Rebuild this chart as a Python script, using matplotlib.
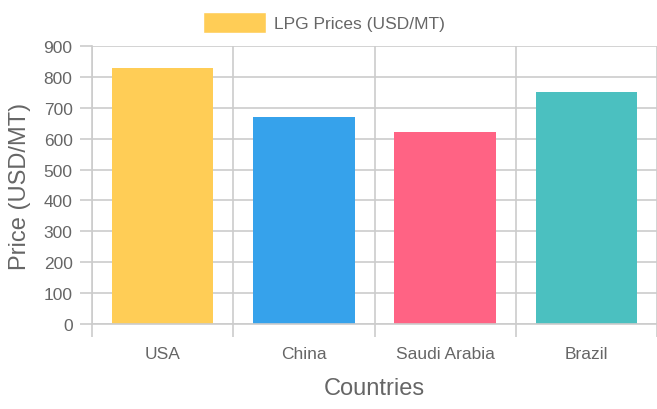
import matplotlib.pyplot as plt
import matplotlib.patches as mpatches
import numpy as np

plt.rcParams['font.family'] = ['Liberation Sans', 'DejaVu Sans']

countries = ['USA', 'China', 'Saudi Arabia', 'Brazil']
prices = [830, 670, 620, 750]
bar_colours = ['#FFCD56', '#36A2EB', '#FF6384', '#4BC0C0']
series_label = 'LPG Prices (USD/MT)'
y_ticks = list(range(0, 1000, 100))

text_grey = '#666666'
grid_grey = '#cccccc'

fig = plt.figure(figsize=(6.57, 4.10), dpi=100)
ax = fig.add_axes([92 / 657, 1 - 325 / 410, 1 - 92 / 657, (325 - 47) / 410])

x = np.arange(len(countries))
ax.bar(x, prices, width=0.72, color=bar_colours, zorder=2)

ax.set_xlim(-0.5, len(countries) - 0.5)
ax.set_ylim(0, 900)
ax.set_yticks(y_ticks)
ax.set_xticks(x)
ax.set_xticklabels(countries)
ax.set_xticks(np.arange(-0.5, len(countries)), minor=True)

ax.tick_params(axis='x', which='major', length=0, pad=15.5, labelsize=12.5, labelcolor=text_grey)
ax.tick_params(axis='x', which='minor', length=9, width=1.2, color=grid_grey)
ax.tick_params(axis='y', length=9, width=1.2, color=grid_grey, pad=5, labelsize=12.5, labelcolor=text_grey)

ax.grid(axis='y', which='major', color=grid_grey, lw=1.2, zorder=0)
ax.grid(axis='x', which='minor', color=grid_grey, lw=1.2, zorder=0)
ax.set_axisbelow(True)

for s in ['top', 'right']:
    ax.spines[s].set_visible(False)
for s in ['left', 'bottom']:
    ax.spines[s].set_color(grid_grey)
    ax.spines[s].set_linewidth(1.2)

ax.set_xlabel('Countries', fontsize=17, color=text_grey, labelpad=12)
ax.set_ylabel('Price (USD/MT)', fontsize=17, color=text_grey, labelpad=9)

# legend drawn as a box and a label above the plot
fig.patches.append(mpatches.Rectangle((203 / 657, 1 - 34 / 410), 63 / 657, 21 / 410,
                                      transform=fig.transFigure, facecolor=bar_colours[0],
                                      edgecolor='white', lw=1))
fig.text(274 / 657, 1 - 24 / 410, series_label, fontsize=12.5, color=text_grey,
         va='center', ha='left')

fig.savefig('out.png', dpi=100, transparent=True)
